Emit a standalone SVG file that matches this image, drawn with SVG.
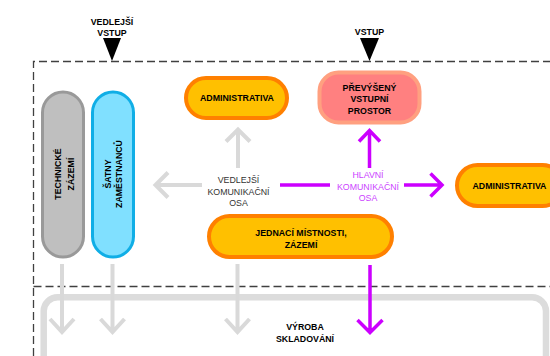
<svg xmlns="http://www.w3.org/2000/svg" width="550" height="356" viewBox="0 0 550 356">
<style>
text{font-family:"Liberation Sans",Arial,sans-serif;font-size:8.8px;text-anchor:middle}
.b{font-weight:bold;fill:#000}
.dash{fill:none;stroke:#404040;stroke-width:1.3;stroke-dasharray:8 4}
.ga{fill:none;stroke:#d9d9d9;stroke-width:4;stroke-linecap:butt;stroke-linejoin:miter}
.ma{fill:none;stroke:#cc00ff;stroke-width:3.5;stroke-linejoin:miter}
.orange{fill:#ffc000;stroke:#ff8000;stroke-width:4}
</style>
<g id="zones">
<path class="dash" d="M33.5,356 V61.5 H552"/>
<path class="dash" d="M33.5,286.5 H552"/>
</g>
<g id="road">
<path d="M43.7,360 V311 A14,14 0 0 1 57.7,297.3 H532 A14,14 0 0 1 546,311 V360" fill="none" stroke="#dcdcdc" stroke-width="6.5"/>
</g>
<g id="entry-side">
<text class="b" x="112" y="25">VEDLEJŠÍ</text>
<text class="b" x="112" y="36">VSTUP</text>
<polygon points="103,38 121,38 112,61" fill="#000"/>
</g>
<g id="entry-main">
<text class="b" x="369.5" y="35">VSTUP</text>
<polygon points="360,38 379,38 369.5,61" fill="#000"/>
</g>
<g id="technicke-zazemi">
<rect x="42.5" y="92" width="41" height="165" rx="20.5" fill="#bfbfbf" stroke="#999999" stroke-width="3"/>
<text class="b" transform="translate(64.5,174) rotate(-90)"><tspan x="0" y="-3.4">TECHNICKÉ</tspan><tspan x="0" y="9.6">ZÁZEMÍ</tspan></text>
</g>
<g id="satny">
<rect x="92.5" y="92" width="41" height="165" rx="20.5" fill="#80e0ff" stroke="#10aee6" stroke-width="3"/>
<text class="b" transform="translate(113.5,174) rotate(-90)"><tspan x="0" y="-2.4">ŠATNY</tspan><tspan x="0" y="8.6">ZAMĚSTNANCŮ</tspan></text>
</g>
<g id="administrativa-top">
<rect x="186" y="78" width="101" height="40" rx="20" class="orange"/>
<text class="b" x="237" y="100.8">ADMINISTRATIVA</text>
</g>
<g id="prevyseny-vstupni-prostor">
<rect x="319.5" y="72.5" width="100" height="50" rx="19" fill="#ff8080" stroke="#ffa080" stroke-width="4"/>
<text class="b" x="369.5" y="90.5">PŘEVÝŠENÝ</text>
<text class="b" x="369.5" y="102">VSTUPNÍ</text>
<text class="b" x="369.5" y="113.5">PROSTOR</text>
</g>
<g id="administrativa-right">
<rect x="457" y="165" width="106" height="41" rx="20.5" class="orange"/>
<text class="b" x="509.5" y="189">ADMINISTRATIVA</text>
</g>
<g id="jednaci-mistnosti">
<rect x="209" y="216" width="183" height="41" rx="20.5" class="orange"/>
<text class="b" x="301" y="236">JEDNACÍ MÍSTNOSTI,</text>
<text class="b" x="301" y="247.5">ZÁZEMÍ</text>
</g>
<g id="vedlejsi-osa">
<text x="238.5" y="182.5" fill="#333">VEDLEJŠÍ</text>
<text x="238.5" y="194.5" fill="#333">KOMUNIKAČNÍ</text>
<text x="238.5" y="206" fill="#333">OSA</text>
</g>
<g id="hlavni-osa">
<text x="368" y="178" fill="#cc44ff">HLAVNÍ</text>
<text x="368" y="190" fill="#cc44ff">KOMUNIKAČNÍ</text>
<text x="368" y="201" fill="#cc44ff">OSA</text>
</g>
<g id="vyroba">
<text class="b" x="305" y="330">VÝROBA</text>
<text class="b" x="305" y="342">SKLADOVÁNÍ</text>
</g>
<g id="connectors">
<path class="ga" d="M238,168 V130 M226,141.5 L238,129.5 L250,141.5"/>
<path class="ga" d="M202,185 H156 M168,172.5 L155.5,185 L168,197.5"/>
<path class="ga" d="M62,264 V332 M50,319 L62,332 L74,319"/>
<path class="ga" d="M112.5,264 V332 M100.5,319 L112.5,332 L124.5,319"/>
<path class="ga" d="M237.5,264 V332 M225.5,319 L237.5,332 L249.5,319"/>
<path class="ma" d="M369.5,168 V131 M359,141.5 L369.5,130.5 L380,141.5"/>
<path class="ma" d="M280,185 H330 M404,185 H441 M430.5,173.5 L442,185 L430.5,196.5"/>
<path class="ma" d="M370,265 V332 M357.5,320 L370,332.5 L382.5,320"/>
</g>
</svg>
